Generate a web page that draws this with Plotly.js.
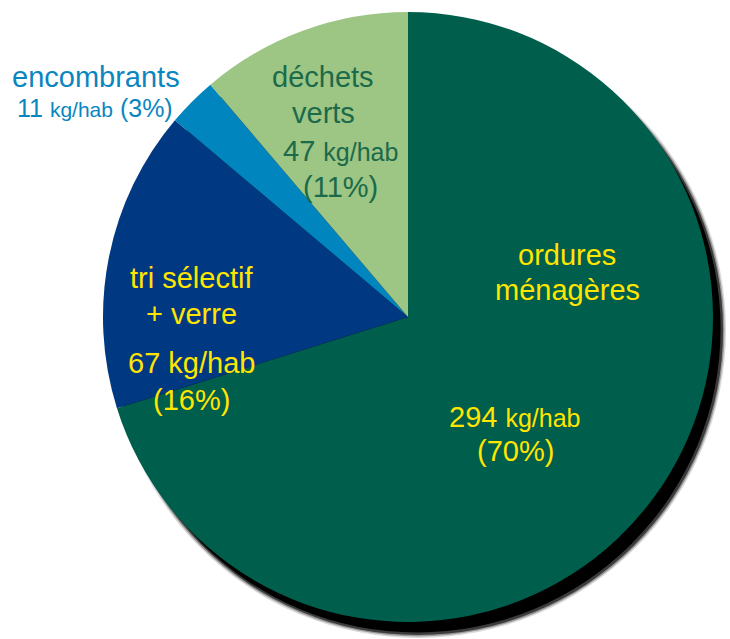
<!DOCTYPE html>
<html>
<head>
<meta charset="utf-8">
<script src="https://cdn.plot.ly/plotly-3.0.1.min.js"></script>
<style>html,body{margin:0;padding:0;background:#fff;}#chart{width:730px;height:639px;}</style>
</head>
<body>
<div id="chart"></div>
<script>
// Data
const categories = ["ordures ménagères", "tri sélectif + verre", "encombrants", "déchets verts"];
const labelLines = [["ordures", "ménagères"], ["tri sélectif", "+ verre"], ["encombrants"], ["déchets", "verts"]];
const kgPerHab = [294, 67, 11, 47];
const percents = ["70%", "16%", "3%", "11%"];
const sliceColors = ["#005E4C", "#003882", "#0085BF", "#9DC584"];

const W = 730, H = 639;
const cx = 408, cy = 317, R = 305;
function dom(dx, dy, dr) {
  return {
    x: [(cx + dx - R - dr) / W, (cx + dx + R + dr) / W],
    y: [1 - (cy + dy + R + dr) / H, 1 - (cy + dy - R - dr) / H]
  };
}

const traces = [];
// soft shadow layers
const shadowLayers = [
  {dx: 10, dy: 13, dr: 3, a: 0.15},
  {dx: 10, dy: 13, dr: 1.5, a: 0.3},
  {dx: 10, dy: 13, dr: 0, a: 0.6},
  {dx: 9, dy: 12, dr: -1.5, a: 1.0}
];
shadowLayers.forEach(s => {
  traces.push({
    type: "pie", values: [1], labels: ["ombre"], sort: false,
    marker: {colors: ["rgba(0,0,0," + s.a + ")"], line: {width: 0}},
    textinfo: "none", hoverinfo: "skip", showlegend: false,
    domain: dom(s.dx, s.dy, s.dr)
  });
});
traces.push({
  type: "pie",
  labels: categories,
  values: kgPerHab,
  sort: false,
  direction: "clockwise",
  rotation: 0,
  marker: {colors: sliceColors, line: {width: 0}},
  textinfo: "none",
  showlegend: false,
  domain: dom(0, 0, 0)
});

const font = "Liberation Sans, Arial, sans-serif";
const YEL = "#FFE500", BLU = "#0A86BF", GRN = "#1B6A4A";
function sp(t, s) { return '<span style="font-size:' + s + 'px">' + t + '</span>'; }
const lines = [
  // ordures ménagères
  {x: 567, y: 255, text: labelLines[0][0], c: YEL, s: 29},
  {x: 567, y: 290, text: labelLines[0][1], c: YEL, s: 29},
  {x: 515, y: 417, text: kgPerHab[0] + " " + sp("kg/hab", 25), c: YEL, s: 29},
  {x: 515, y: 451, text: "(" + percents[0] + ")", c: YEL, s: 29},
  // tri sélectif + verre
  {x: 192, y: 278, text: labelLines[1][0], c: YEL, s: 29},
  {x: 192, y: 314, text: labelLines[1][1], c: YEL, s: 29},
  {x: 192, y: 363, text: kgPerHab[1] + " kg/hab", c: YEL, s: 29},
  {x: 192, y: 400, text: "(" + percents[1] + ")", c: YEL, s: 29},
  // encombrants
  {x: 96, y: 77, text: labelLines[2][0], c: BLU, s: 29},
  {x: 95, y: 108, text: kgPerHab[2] + " " + sp("kg/hab", 21) + " (" + percents[2] + ")", c: BLU, s: 25},
  // déchets verts
  {x: 323, y: 77, text: labelLines[3][0], c: GRN, s: 29},
  {x: 323, y: 113, text: labelLines[3][1], c: GRN, s: 29},
  {x: 340, y: 151, text: kgPerHab[3] + " " + sp("kg/hab", 25), c: GRN, s: 29},
  {x: 340, y: 187, text: "(" + percents[3] + ")", c: GRN, s: 29}
];
const annotations = lines.map(a => ({
  x: a.x / W, y: 1 - a.y / H, xref: "paper", yref: "paper",
  xanchor: "center", yanchor: "middle", showarrow: false,
  text: a.text, align: "center",
  font: {family: font, size: a.s, color: a.c}
}));

const layout = {
  width: W, height: H,
  margin: {l: 0, r: 0, t: 0, b: 0},
  paper_bgcolor: "#ffffff",
  showlegend: false,
  annotations: annotations
};
Plotly.newPlot("chart", traces, layout, {displayModeBar: false, staticPlot: true});
</script>
</body>
</html>
